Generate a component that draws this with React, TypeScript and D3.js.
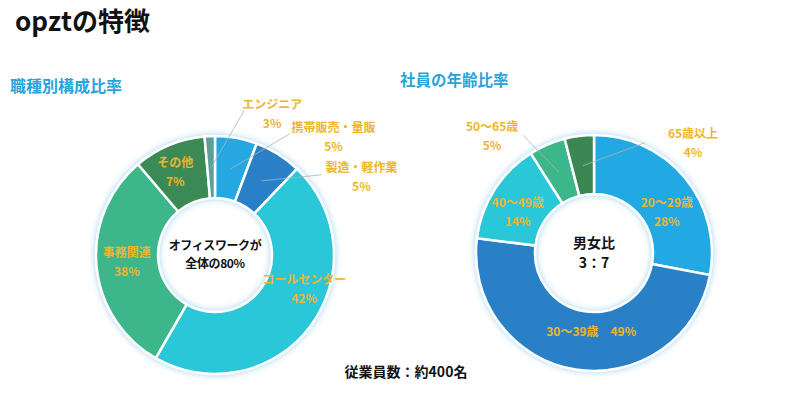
import React, { useEffect, useRef } from 'react';
import * as d3 from 'd3'

// 職種別構成比率 (arc sizes as drawn in the picture, printed percentages kept separately)
const jobNames = ['携帯販売・量販', '製造・軽作業', 'コールセンター', '事務関連', 'その他', 'エンジニア']
const jobShares = [5.7, 6.4, 46.2, 30.5, 9.8, 1.4]
const jobPercents = ['5%', '5%', '42%', '38%', '7%', '3%']

// 社員の年齢比率
const ageNames = ['20～29歳', '30～39歳', '40～49歳', '50～65歳', '65歳以上']
const ageShares = [28, 49, 14, 5, 4]
const agePercents = ['28%', '49%', '14%', '5%', '4%']

const jobColors = ['#27a7e1', '#2a80c6', '#2bc7d8', '#3db68c', '#3a8a55', '#5b9e99']
const ageColors = ['#24a8e2', '#2a80c6', '#2bc7d8', '#3db68c', '#3a8753']

const GOLD = '#efb52c'
const FONT = '"Noto Sans CJK JP", "Noto Sans", sans-serif'

type LabelPos = { dx: number, dy: number, lead?: [number, number], inline?: boolean }

// label placement relative to each slice centroid
const jobLabelPos: LabelPos[] = [
  { dx: 103, dy: -41, lead: [59, -35] },
  { dx: 100, dy: -13, lead: [60, -6] },
  { dx: 19, dy: -28 },
  { dx: -1, dy: -10 },
  { dx: -6, dy: -11 },
  { dx: 61, dy: -63, lead: [33, -57] },
]
const ageLabelPos: LabelPos[] = [
  { dx: 5, dy: 6 },
  { dx: 11, dy: -8, inline: true },
  { dx: -2, dy: -3 },
  { dx: -67, dy: -45, lead: [-36, -37] },
  { dx: 110, dy: -32, lead: [62, -23] },
]

const App: React.FC = () => {
  const svgRef = useRef() as React.MutableRefObject<SVGSVGElement>

  useEffect(() => {
    const svg = d3.select(svgRef.current)
    svg.html('')

    const defs = svg.append('defs')
    const glow = defs.append('filter').attr('id', 'glow')
      .attr('x', '-20%').attr('y', '-20%').attr('width', '140%').attr('height', '140%')
    glow.append('feDropShadow')
      .attr('dx', 0).attr('dy', 0).attr('stdDeviation', 3)
      .attr('flood-color', '#86c8f0').attr('flood-opacity', 0.8)

    // titles
    svg.append('text')
      .attr('x', 15).attr('y', 31)
      .attr('font-family', FONT).attr('font-weight', 700).attr('font-size', 26)
      .attr('fill', '#111')
      .text('opztの特徴')

    svg.append('text')
      .attr('x', 10).attr('y', 92)
      .attr('font-family', FONT).attr('font-weight', 700).attr('font-size', 16)
      .attr('fill', '#2aa3da')
      .text('職種別構成比率')

    svg.append('text')
      .attr('x', 400).attr('y', 86)
      .attr('font-family', FONT).attr('font-weight', 700).attr('font-size', 15.5)
      .attr('fill', '#2aa3da')
      .text('社員の年齢比率')

    svg.append('text')
      .attr('x', 406).attr('y', 377)
      .attr('text-anchor', 'middle')
      .attr('font-family', FONT).attr('font-weight', 700).attr('font-size', 14)
      .attr('fill', '#111')
      .text('従業員数：約400名')

    const drawDonut = (
      cx: number, cy: number, outer: number, inner: number,
      names: string[], shares: number[], percents: string[], colors: string[],
      pos: LabelPos[], center: string[], centerSize: number, lineGap: number
    ) => {
      const g = svg.append('g').attr('transform', `translate(${cx}, ${cy})`)

      const pie = d3.pie<number>().sort(null).value(d => d)
      const arcs = pie(shares)
      const arc = d3.arc<d3.PieArcDatum<number>>().innerRadius(inner).outerRadius(outer)
      const mid = d3.arc<d3.PieArcDatum<number>>().innerRadius(inner).outerRadius(outer - 1)

      g.append('g').attr('filter', 'url(#glow)')
        .selectAll('path')
        .data(arcs)
        .join('path')
        .attr('d', arc)
        .attr('fill', (_, i) => colors[i])
        .attr('stroke', '#fff')
        .attr('stroke-width', 2.5)

      arcs.forEach((a, i) => {
        const [x, y] = mid.centroid(a)
        const p = pos[i]
        if (p.lead) {
          g.append('line')
            .attr('x1', x).attr('y1', y)
            .attr('x2', x + p.lead[0]).attr('y2', y + p.lead[1])
            .attr('stroke', '#a9b4bb').attr('stroke-width', 0.8)
        }
        const t = g.append('text')
          .attr('text-anchor', 'middle')
          .attr('font-family', FONT).attr('font-weight', 700).attr('font-size', 12)
          .attr('fill', GOLD)
        if (p.inline) {
          t.attr('x', x + p.dx).attr('y', y + p.dy).attr('dy', '0.35em')
            .text(`${names[i]}　${percents[i]}`)
        } else {
          t.append('tspan').attr('x', x + p.dx).attr('y', y + p.dy).attr('dy', '0.35em').text(names[i])
          t.append('tspan').attr('x', x + p.dx).attr('y', y + p.dy + 19).attr('dy', '0.35em').text(percents[i])
        }
      })

      center.forEach((line, i) => {
        g.append('text')
          .attr('text-anchor', 'middle')
          .attr('font-family', FONT).attr('font-weight', 700).attr('font-size', centerSize)
          .attr('letter-spacing', centerSize < 13 ? -0.4 : 0)
          .attr('fill', '#111')
          .attr('x', 0).attr('y', (i - (center.length - 1) / 2) * lineGap)
          .attr('dy', '0.35em')
          .text(line)
      })
    }

    drawDonut(215, 255, 119, 57, jobNames, jobShares, jobPercents, jobColors,
      jobLabelPos, ['オフィスワークが', '全体の80%'], 12, 18)
    drawDonut(594, 253, 118, 59, ageNames, ageShares, agePercents, ageColors,
      ageLabelPos, ['男女比', '3：7'], 14, 20.5)
  }, [])

  return (
    <svg ref={svgRef} width={800} height={398}
      style={{ position: 'absolute', left: 0, top: 0, background: '#fff' }} />
  )
}

export default App
